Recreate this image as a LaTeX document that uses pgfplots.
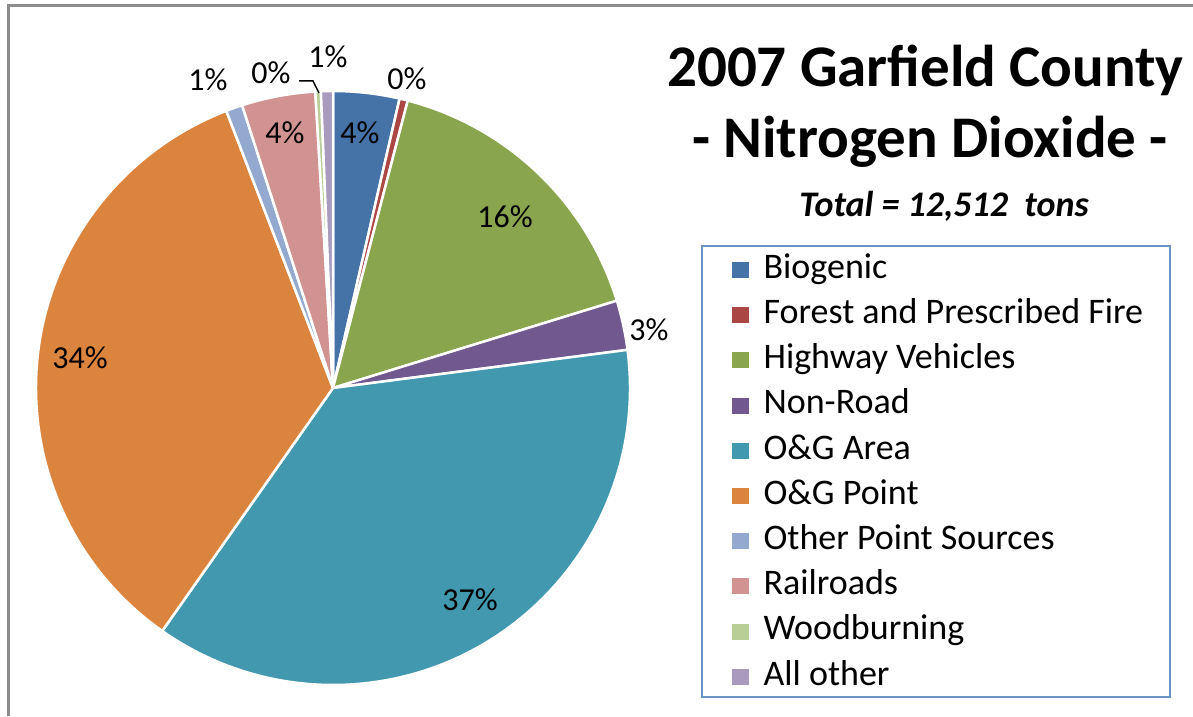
\documentclass[border=0pt]{standalone}
\usepackage{fontspec}
\setmainfont{Carlito}
\usepackage{pgfplots}
\usepackage{pgfplotstable}
\pgfplotsset{compat=1.18}
\definecolor{c0}{HTML}{4572A7}
\definecolor{c1}{HTML}{AA4643}
\definecolor{c2}{HTML}{89A54E}
\definecolor{c3}{HTML}{71588F}
\definecolor{c4}{HTML}{4198AF}
\definecolor{c5}{HTML}{DB843D}
\definecolor{c6}{HTML}{93A9CF}
\definecolor{c7}{HTML}{D19392}
\definecolor{c8}{HTML}{B9CD96}
\definecolor{c9}{HTML}{A99BBD}
\definecolor{legblue}{HTML}{6A93C8}
\definecolor{framegray}{HTML}{8C8C8C}
\pgfplotstableread{
idx value
0 3.6
1 0.45
2 16.2
3 2.7
4 36.8
5 34.4
6 0.9
7 4.0
8 0.3
9 0.65
}\piedata
\begin{document}
\begin{tikzpicture}
\begin{axis}[
  width=1193pt, height=716pt, scale only axis,
  xmin=0, xmax=1193, ymin=0, ymax=716,
  hide axis, clip=false,
  legend image code/.code={\fill[#1] (0pt,1pt) rectangle (16pt,16pt);},
  legend cell align=left,
  legend style={at={(axis cs:732,460.5)}, anchor=north west, draw=none, fill=none,
    inner sep=0pt, row sep=0.2pt, column sep=15pt,
    font=\fontsize{36}{42}\selectfont,
    nodes={inner sep=0pt, text height=22.5pt, text depth=22.5pt}},
]
% frame
\draw[framegray, line width=2.8pt] (axis cs:8.3,0) -- (axis cs:8.3,710.7) -- (axis cs:1193,710.7);
% legend box
\draw[legblue, line width=1.8pt] (axis cs:702,470) rectangle (axis cs:1170,19);
\def\cum{0}
\pgfplotsforeachungrouped \i in {0,...,9}{%
  \pgfplotstablegetelem{\i}{value}\of\piedata
  \pgfmathsetmacro\a{90-3.6*\cum}%
  \pgfmathsetmacro\cumnew{\cum+\pgfplotsretval}%
  \pgfmathsetmacro\b{90-3.6*\cumnew}%
  \edef\cmd{\noexpand\fill[fill=c\i, draw=white, line width=2.5pt, line join=round]
    (axis cs:333,328) -- ([shift={(\a:297pt)}]axis cs:333,328)
    arc[start angle=\a, end angle=\b, radius=297pt] -- cycle;}%
  \cmd
  \global\let\cum\cumnew
}
% labels
\begin{scope}[every node/.style={font=\fontsize{32}{38}\selectfont, inner sep=0pt}]
\node at (axis cs:360,583) {4\%};
\node at (axis cs:407,637) {0\%};
\node at (axis cs:505,499) {16\%};
\node at (axis cs:649,386) {3\%};
\node at (axis cs:470,116) {37\%};
\node at (axis cs:80,358) {34\%};
\node at (axis cs:208,636) {1\%};
\node at (axis cs:285,583) {4\%};
\node at (axis cs:271,643) {0\%};
\node at (axis cs:328,659) {1\%};
\end{scope}
\draw[black, line width=1.5pt] (axis cs:299,635) -- (axis cs:313,635) -- (axis cs:319,623);
% titles
\node[anchor=base, inner sep=0pt, font=\fontsize{59}{70}\selectfont\bfseries] at (axis cs:925.5,629) {2007 Garfield County};
\node[anchor=base, inner sep=0pt, font=\fontsize{59}{70}\selectfont\bfseries] at (axis cs:930,558) {- Nitrogen Dioxide -};
\node[anchor=base, inner sep=0pt, font=\fontsize{36}{42}\selectfont\bfseries\itshape] at (axis cs:944,499) {Total = 12,512~ tons};
% legend
\addlegendimage{c0}\addlegendentry{Biogenic}
\addlegendimage{c1}\addlegendentry{Forest and Prescribed Fire}
\addlegendimage{c2}\addlegendentry{Highway Vehicles}
\addlegendimage{c3}\addlegendentry{Non-Road}
\addlegendimage{c4}\addlegendentry{O\&G Area}
\addlegendimage{c5}\addlegendentry{O\&G Point}
\addlegendimage{c6}\addlegendentry{Other Point Sources}
\addlegendimage{c7}\addlegendentry{Railroads}
\addlegendimage{c8}\addlegendentry{Woodburning}
\addlegendimage{c9}\addlegendentry{All other}
\end{axis}
\pgfresetboundingbox
\path[use as bounding box] (current axis.south west) rectangle (current axis.north east);
\end{tikzpicture}
\end{document}
